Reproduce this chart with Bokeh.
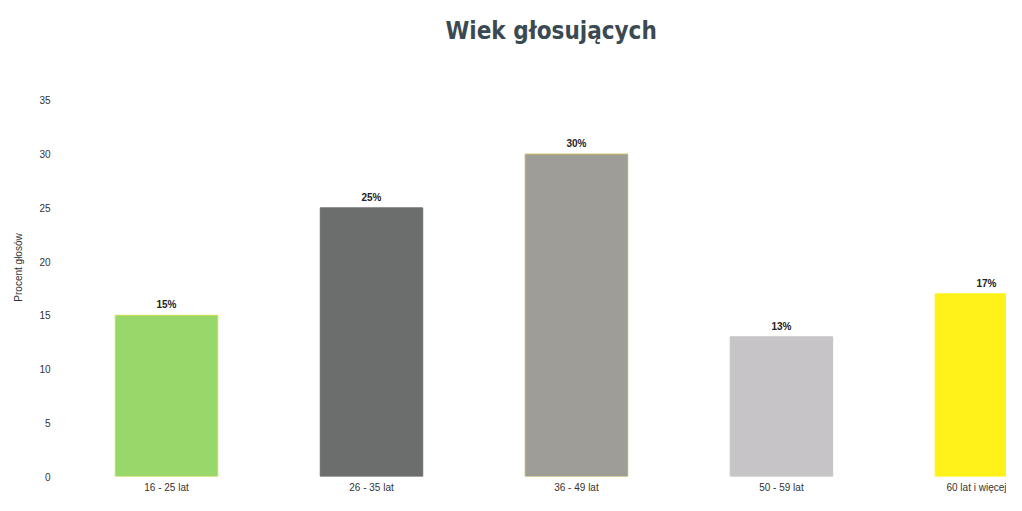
from bokeh.plotting import figure
from bokeh.models import ColumnDataSource, FixedTicker, Range1d, Title, LabelSet
from bokeh.core.properties import value
from bokeh.embed import file_html
from bokeh.resources import INLINE

categories = ["16 - 25 lat", "26 - 35 lat", "36 - 49 lat", "50 - 59 lat", "60 lat i więcej"]
values = [15, 25, 30, 13, 17]
colors = ["#98d86a", "#6b6e6d", "#9e9d98", "#c6c4c6", "#fff21a"]
edge_colors = ["#c9dc4a", "#6b6e6d", "#b9ae5a", "#c6c4c6", "#fff21a"]
y_ticks = [0, 5, 10, 15, 20, 25, 30, 35]

xs = list(range(len(categories)))
labels = [f"{v}%" for v in values]
src = ColumnDataSource(dict(x=xs, top=values, color=colors, edge=edge_colors, lab=labels))

p = figure(width=1006, height=495, output_backend="svg", toolbar_location=None,
           x_range=Range1d(-0.527, 4.098), y_range=Range1d(0, 38.9),
           min_border_left=58, min_border_right=0, min_border_bottom=18, min_border_top=0)

p.vbar(x="x", top="top", width=0.5, source=src, fill_color="color", line_color="edge", line_width=1)

p.add_layout(LabelSet(x="x", y="top", text="lab", source=src, text_align="center",
                      text_baseline="bottom", y_offset=5, text_font_size="10px",
                      text_font_style="bold", text_color="#222222",
                      text_font=value("Liberation Sans")))

t = Title(text="Wiek głosujących", align="left", text_font_size="24px",
          text_font="DejaVu Sans Condensed", offset=387,
          text_font_style="bold", text_color="#3b4a52", standoff=28)
p.add_layout(t, "above")

p.xaxis.ticker = FixedTicker(ticks=xs)
p.xaxis.major_label_overrides = {i: c for i, c in enumerate(categories)}
p.yaxis.ticker = FixedTicker(ticks=y_ticks)
for ax in (p.xaxis, p.yaxis):
    ax.axis_line_color = None
    ax.major_tick_line_color = None
    ax.minor_tick_line_color = None
    ax.major_tick_out = 0
    ax.major_tick_in = 0
    ax.minor_tick_out = 0
    ax.major_label_text_font = "Liberation Sans"
    ax.major_label_text_font_size = "10px"
    ax.major_label_text_color = "#333333"
p.xaxis.major_label_standoff = 5
p.yaxis.major_label_standoff = 8
p.yaxis.axis_label = "Procent głosów"
p.yaxis.axis_label_text_font = "Liberation Sans"
p.yaxis.axis_label_text_font_size = "10px"
p.yaxis.axis_label_text_font_style = "normal"
p.yaxis.axis_label_text_color = "#333333"
p.yaxis.axis_label_standoff = 12

p.xgrid.grid_line_color = None
p.ygrid.grid_line_color = None
p.outline_line_color = None

open("out.html", "w").write(file_html(p, INLINE))
